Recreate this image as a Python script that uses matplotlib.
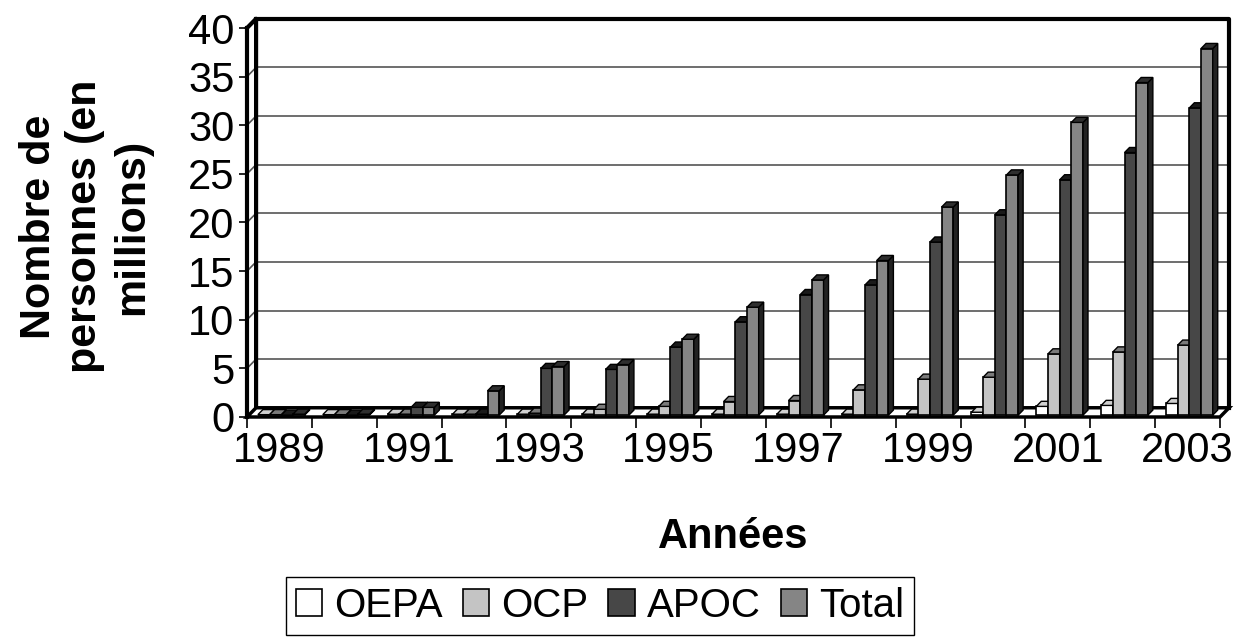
import numpy as np
import matplotlib
matplotlib.use("Agg")
import matplotlib.pyplot as plt
from matplotlib.patches import Polygon, Patch

plt.rcParams['font.family'] = ['Liberation Sans', 'DejaVu Sans']

#### Data
years = [1989, 1990, 1991, 1992, 1993, 1994, 1995, 1996, 1997, 1998,
         1999, 2000, 2001, 2002, 2003]
oepa = [0.05, 0.05, 0.1, 0.1, 0.1, 0.1, 0.1, 0.1, 0.1, 0.1, 0.1, 0.3, 0.9, 1.0, 1.2]
ocp = [0.05, 0.05, 0.1, 0.1, 0.2, 0.6, 0.9, 1.4, 1.5, 2.6, 3.7, 3.9, 6.3, 6.5, 7.2]
apoc = [0.0, 0.0, 0.8, 0.1, 4.8, 4.7, 7.0, 9.6, 12.4, 13.4, 17.8, 20.6, 24.2, 27.0, 31.6]
total = [0.1, 0.1, 0.8, 2.5, 5.0, 5.2, 7.8, 11.1, 13.9, 15.9, 21.4, 24.7, 30.1, 34.2, 37.7]
series_names = ['OEPA', 'OCP', 'APOC', 'Total']
series_vals = [oepa, ocp, apoc, total]
colors = ['#ffffff', '#c4c4c4', '#474747', '#858585']
tops = ['#d0d0d0', '#7a7a7a', '#1a1a1a', '#2e2e2e']
sides = ['#9a9a9a', '#5a5a5a', '#111111', '#222222']

n = len(years)
ymax = 40
DX, DY = 0.14, 0.95          # depth of the box (category units, value units)
f0, f1 = 0.2, 0.75           # bars sit between these depth fractions
w = 0.18                     # bar width
gap = 1 - 4 * w

fig = plt.figure(figsize=(12.39, 6.39), dpi=100)
ax = fig.add_axes([247 / 1239, 1 - 417 / 639, (1220 - 247) / 1239, (417 - 28) / 639])
ax.set_xlim(0, n)
ax.set_ylim(0, ymax)

# walls: gridlines on back wall and side wall
for v in range(5, ymax, 5):
    ax.plot([DX, n + DX], [v + DY, v + DY], color='#555555', lw=1.2, zorder=1, clip_on=False)
    ax.plot([0, DX], [v, v + DY], color='#555555', lw=1.2, zorder=1, clip_on=False)

# box frame
ax.plot([DX, n + DX, n + DX], [ymax + DY, ymax + DY, DY], color='black', lw=3, zorder=2, clip_on=False)
ax.plot([0, DX, DX], [ymax, ymax + DY, DY], color='black', lw=3, zorder=2, clip_on=False)
ax.plot([0, 0], [0, ymax], color='black', lw=3, zorder=2, clip_on=False)
floor = Polygon([(0, 0), (n, 0), (n + DX, DY), (DX, DY)], closed=True,
                facecolor='white', edgecolor='black', lw=2.5, zorder=2, clip_on=False)
ax.add_patch(floor)

# 3D-ish bars
bx0, by0 = f0 * DX, f0 * DY
ddx, ddy = (f1 - f0) * DX, (f1 - f0) * DY
for i in range(n):
    for j in range(4):
        h = series_vals[j][i]
        x = i + gap / 2 + j * w + bx0
        z = 3 + i * 4 + j
        ax.bar(x, h, width=w, bottom=by0, align='edge', color=colors[j],
               edgecolor='black', linewidth=1.2, zorder=z, clip_on=False)
        ax.add_patch(Polygon([(x + w, by0), (x + w + ddx, by0 + ddy),
                              (x + w + ddx, by0 + h + ddy), (x + w, by0 + h)],
                             closed=True, facecolor=sides[j], edgecolor='black',
                             lw=1.0, zorder=z, clip_on=False))
        ax.add_patch(Polygon([(x, by0 + h), (x + w, by0 + h),
                              (x + w + ddx, by0 + h + ddy), (x + ddx, by0 + h + ddy)],
                             closed=True, facecolor=tops[j], edgecolor='black',
                             lw=1.0, zorder=z, clip_on=False))

for s in ax.spines.values():
    s.set_visible(False)

ax.set_yticks(range(0, ymax + 1, 5))
ax.tick_params(axis='y', direction='out', length=6, width=1.2, labelsize=30, pad=3)
ax.set_xticks(np.arange(n + 1))
ax.set_xticklabels([])
ax.tick_params(axis='x', which='major', direction='out', length=8, width=1.2)
ax.set_xticks(np.arange(n) + 0.5, minor=True)
ax.set_xticklabels([str(y) if k % 2 == 0 else '' for k, y in enumerate(years)], minor=True)
ax.tick_params(axis='x', which='minor', length=0, labelsize=30, pad=10)

ax.text(0.5, -0.308, 'Années', transform=ax.transAxes, ha='center', va='center',
        fontsize=30, fontweight='bold')
ax.text(-0.166, 0.49, 'Nombre de\npersonnes (en\nmillions)', transform=ax.transAxes,
        rotation=90, ha='center', va='center', multialignment='center',
        fontsize=31, fontweight='bold', linespacing=1.2)

handles = [Patch(facecolor=c, edgecolor='black', lw=1.2) for c in colors]
fig.legend(handles, series_names, loc='center', bbox_to_anchor=(600 / 1239, 1 - 606 / 639),
           ncol=4, fontsize=29, frameon=True, fancybox=False, edgecolor='black',
           handlelength=0.65, handleheight=0.65, handletextpad=0.3, columnspacing=0.5,
           borderpad=0.25, framealpha=1)

fig.savefig('out.png', dpi=100)
